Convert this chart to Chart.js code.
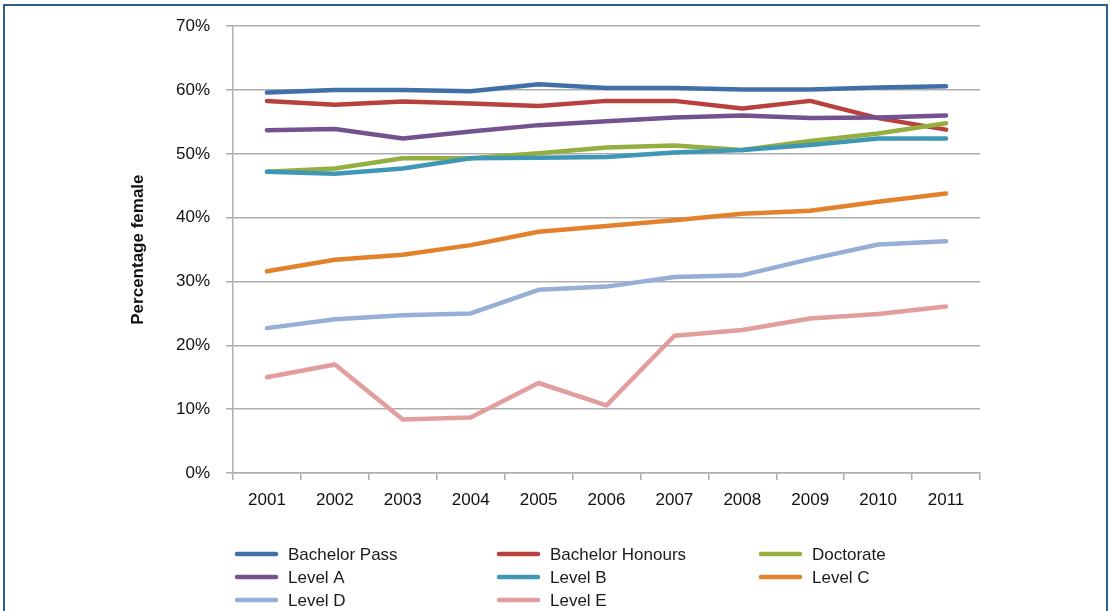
<!DOCTYPE html>
<html>
<head>
<meta charset="utf-8">
<script src="https://cdn.jsdelivr.net/npm/chart.js@4"></script>
<style>
  html, body { margin: 0; padding: 0; background: #fff; overflow: hidden; }
  #wrap { position: relative; width: 1110px; height: 611px; }
  #frame { position: absolute; left: 3px; top: 4px; width: 1101px; height: 700px;
           border: 2px solid #2E5D8E; border-bottom: none; pointer-events: none; }
  canvas { display: block; }
</style>
</head>
<body>
<div id="wrap">
  <canvas id="c" width="1110" height="611"></canvas>
  <div id="frame"></div>
</div>
<script>
const years = ['2001','2002','2003','2004','2005','2006','2007','2008','2009','2010','2011'];
const yTicks = [0, 10, 20, 30, 40, 50, 60, 70];

const bachelorPass    = [59.6, 60.0, 60.0, 59.8, 60.9, 60.3, 60.3, 60.1, 60.1, 60.4, 60.6];
const bachelorHonours = [58.3, 57.7, 58.2, 57.9, 57.5, 58.3, 58.3, 57.1, 58.3, 55.6, 53.8];
const doctorate       = [47.2, 47.7, 49.3, 49.3, 50.1, 51.0, 51.3, 50.6, 52.0, 53.2, 54.8];
const levelA          = [53.7, 53.9, 52.4, 53.5, 54.5, 55.1, 55.7, 56.0, 55.6, 55.7, 56.0];
const levelB          = [47.2, 46.9, 47.7, 49.3, 49.4, 49.5, 50.2, 50.6, 51.4, 52.4, 52.4];
const levelC          = [31.6, 33.4, 34.2, 35.7, 37.8, 38.7, 39.6, 40.6, 41.1, 42.5, 43.8];
const levelD          = [22.7, 24.1, 24.7, 25.0, 28.7, 29.2, 30.7, 31.0, 33.5, 35.8, 36.3];
const levelE          = [15.0, 17.0,  8.4,  8.7, 14.1, 10.6, 21.5, 22.4, 24.2, 24.9, 26.1];

const seriesNames = ['Bachelor Pass','Bachelor Honours','Doctorate','Level A','Level B','Level C','Level D','Level E'];
const seriesData  = [bachelorPass, bachelorHonours, doctorate, levelA, levelB, levelC, levelD, levelE];
const seriesColors = ['#4170A9','#B8413E','#94AE40','#74528F','#3F97B5','#E3822C','#97AFD7','#E29E9C'];

const FONT = "'Liberation Sans', Arial, sans-serif";
const GRID = '#ADADAD';

const datasets = seriesNames.map((name, i) => ({
  label: name,
  data: seriesData[i],
  borderColor: seriesColors[i],
  backgroundColor: seriesColors[i],
  borderWidth: 4.5,
  pointRadius: 0,
  pointHoverRadius: 0,
  tension: 0,
  fill: false,
  borderCapStyle: 'round',
  borderJoinStyle: 'round',
  order: -i
}));

const gridLegend = {
  id: 'gridLegend',
  afterDraw(chart) {
    const ctx = chart.ctx;
    const x0 = 235, colW = 262, y0 = 554, rowH = 23, lineLen = 43, textGap = 10;
    ctx.save();
    ctx.font = '17px ' + FONT;
    ctx.textBaseline = 'middle';
    ctx.textAlign = 'left';
    chart.data.datasets.forEach((ds, i) => {
      const col = i % 3, row = Math.floor(i / 3);
      const x = x0 + col * colW, y = y0 + row * rowH;
      ctx.strokeStyle = ds.borderColor;
      ctx.lineWidth = 4.5;
      ctx.lineCap = 'round';
      ctx.beginPath();
      ctx.moveTo(x + 2, y);
      ctx.lineTo(x + lineLen - 2, y);
      ctx.stroke();
      ctx.fillStyle = '#1a1a1a';
      ctx.fillText(ds.label, x + lineLen + textGap, y + 1);
    });
    ctx.restore();
  }
};

new Chart(document.getElementById('c'), {
  type: 'line',
  data: { labels: years, datasets },
  options: {
    responsive: false,
    animation: false,
    events: [],
    layout: { padding: { left: 4, right: 130, top: 24, bottom: 98 } },
    plugins: { legend: { display: false }, tooltip: { enabled: false } },
    scales: {
      x: {
        offset: true,
        grid: { offset: true, drawOnChartArea: false, drawTicks: true, tickLength: 7, color: GRID, lineWidth: 1.5 },
        border: { color: GRID, width: 1.5 },
        ticks: { color: '#111', font: { family: FONT, size: 17 }, padding: 10, maxRotation: 0 },
        afterFit(s) { s.height = 40; }
      },
      y: {
        min: 0, max: 70,
        afterBuildTicks(s) { s.ticks = yTicks.map(v => ({ value: v })); },
        grid: { color: GRID, lineWidth: 1.5, tickLength: 7 },
        border: { color: GRID, width: 1.5 },
        ticks: { color: '#111', font: { family: FONT, size: 17 }, padding: 16, callback: v => v + '%' },
        title: { display: true, text: 'Percentage female', color: '#111',
                 font: { family: FONT, size: 17, weight: 'bold' }, padding: { top: 124, bottom: 0 } },
        afterFit(s) { s.width = 229; }
      }
    }
  },
  plugins: [gridLegend]
});
</script>
</body>
</html>
